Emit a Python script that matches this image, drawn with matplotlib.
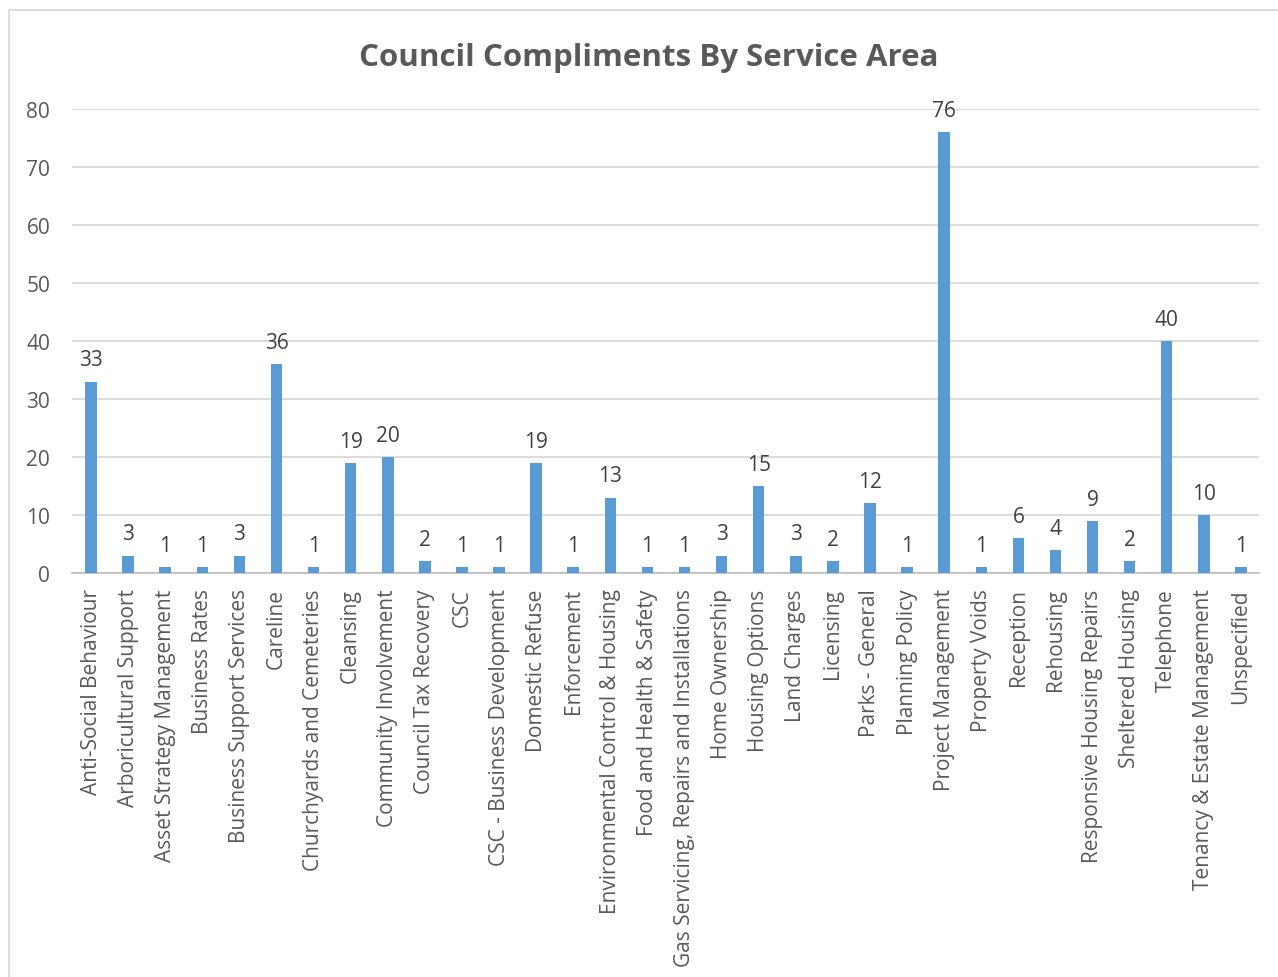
import matplotlib.pyplot as plt
from matplotlib.lines import Line2D

categories = [
    'Anti-Social Behaviour', 'Arboricultural Support', 'Asset Strategy Management',
    'Business Rates', 'Business Support Services', 'Careline',
    'Churchyards and Cemeteries', 'Cleansing', 'Community Involvement',
    'Council Tax Recovery', 'CSC', 'CSC - Business Development',
    'Domestic Refuse', 'Enforcement', 'Environmental Control & Housing',
    'Food and Health & Safety', 'Gas Servicing, Repairs and Installations',
    'Home Ownership', 'Housing Options', 'Land Charges', 'Licensing',
    'Parks - General', 'Planning Policy', 'Project Management',
    'Property Voids', 'Reception', 'Rehousing', 'Responsive Housing Repairs',
    'Sheltered Housing', 'Telephone', 'Tenancy & Estate Management', 'Unspecified',
]
compliments = [33, 3, 1, 1, 3, 36, 1, 19, 20, 2, 1, 1, 19, 1, 13, 1, 1,
               3, 15, 3, 2, 12, 1, 76, 1, 6, 4, 9, 2, 40, 10, 1]
y_ticks = [0, 10, 20, 30, 40, 50, 60, 70, 80]

plt.rcParams['font.family'] = ['Open Sans', 'DejaVu Sans']

fig = plt.figure(figsize=(12.78, 9.78), dpi=100)
ax = fig.add_axes([0.0567, 0.4131, 0.9288, 0.4744])

x = range(len(categories))
ax.bar(x, compliments, width=0.31, color='#5B9BD5', zorder=3)

for xi, v in zip(x, compliments):
    ax.annotate(str(v), (xi, v), xytext=(0, 8), textcoords='offset points',
                ha='center', va='bottom', fontsize=15, color='#404040')

ax.set_xlim(-0.5, len(categories) - 0.5)
ax.set_ylim(0, 80)
ax.set_yticks(y_ticks)
ax.set_xticks(list(x))
ax.set_xticklabels(categories, rotation=90, fontsize=15, color='#595959')
ax.tick_params(axis='y', labelsize=15, labelcolor='#595959', length=0, pad=16)
ax.tick_params(axis='x', length=0, pad=11)
ax.grid(axis='y', color='#D9D9D9', linewidth=1.3, zorder=0)
for s in ['top', 'right', 'left']:
    ax.spines[s].set_visible(False)
ax.spines['bottom'].set_color('#BFBFBF')
ax.spines['bottom'].set_linewidth(1.3)

fig.text(0.508, 0.941, 'Council Compliments By Service Area', ha='center',
         va='center', fontsize=22.5, fontweight='bold', color='#595959')

# chart area border (only left and top edges show)
fig.add_artist(Line2D([9 / 1278, 9 / 1278], [0, 1 - 11 / 978],
                      transform=fig.transFigure, color='#D9D9D9', linewidth=1.3))
fig.add_artist(Line2D([9 / 1278, 1], [1 - 11 / 978, 1 - 11 / 978],
                      transform=fig.transFigure, color='#D9D9D9', linewidth=1.3))

fig.savefig('out.png', dpi=100)
